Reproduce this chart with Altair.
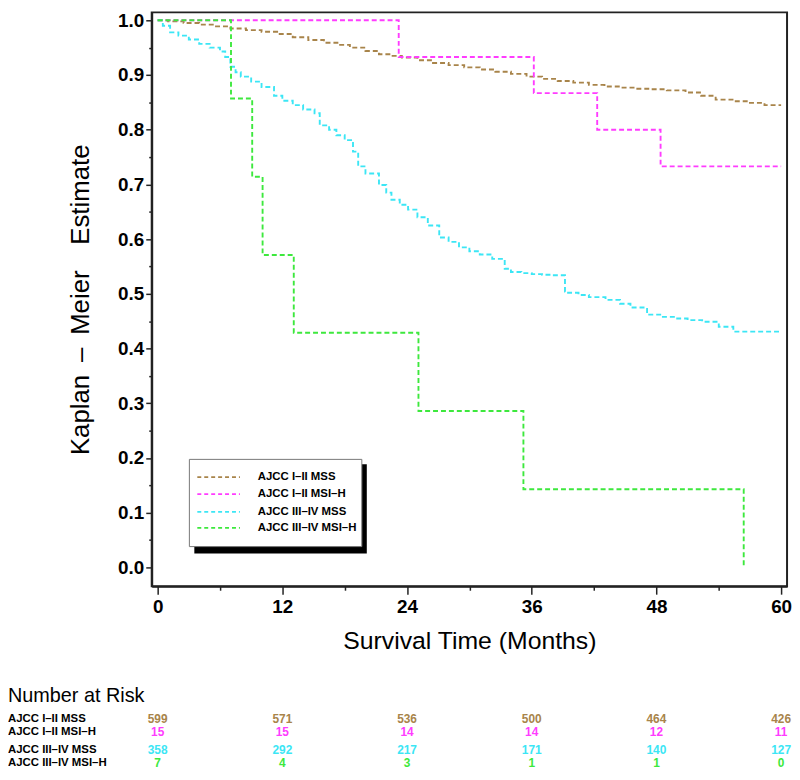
import altair as alt
import pandas as pd

# ---------------- data ----------------
groups = ["AJCC I\u2013II MSS", "AJCC I\u2013II MSI\u2013H", "AJCC III\u2013IV MSS", "AJCC III\u2013IV MSI\u2013H"]
colors = ["#a8844a", "#ff3cff", "#3ce6f5", "#3de83d"]

t_I_II_MSS = [0, 1, 2.5, 4, 5.5, 7, 8.5, 10, 11.5, 13, 14.5, 16, 17.3, 18.5, 20, 21.3, 22.5, 23.5, 25, 26.5,
              28, 29.5, 31, 32.5, 34, 35.5, 37, 38.5, 40, 41.5, 43, 44.5, 46, 47.5, 49, 50.8, 52.3, 53.7,
              55.5, 57, 58.4, 60]
s_I_II_MSS = [1.0, 0.998, 0.995, 0.992, 0.989, 0.985, 0.982, 0.979, 0.975, 0.969, 0.964, 0.959, 0.955,
              0.950, 0.944, 0.938, 0.935, 0.932, 0.927, 0.922, 0.918, 0.914, 0.910, 0.906, 0.902, 0.897,
              0.893, 0.889, 0.886, 0.882, 0.879, 0.877, 0.875, 0.874, 0.872, 0.868, 0.862, 0.855, 0.852,
              0.849, 0.845, 0.845]

t_I_II_MSIH = [0, 23.2, 36.2, 42.3, 48.4, 60]
s_I_II_MSIH = [1.0, 0.933, 0.867, 0.800, 0.733, 0.733]

t_III_IV_MSS = [0, 0.5, 1.2, 2, 3, 4, 5, 6, 6.5, 7, 7.5, 8, 9, 10, 11.2, 12, 13, 14, 15.1, 15.6, 16.5,
                17.2, 18, 18.8, 19.3, 20, 21.3, 22, 22.5, 23.3, 24.1, 25, 26, 27.1, 28, 29, 30, 31, 32.2,
                33.4, 34, 35, 36, 37, 38, 39.2, 39.5, 40.5, 41.5, 43.1, 44.5, 45.5, 47.1, 48.5, 50, 51,
                52.4, 54, 55.4, 60]
s_III_IV_MSS = [1.0, 0.99, 0.978, 0.972, 0.965, 0.957, 0.950, 0.943, 0.933, 0.915, 0.905, 0.897, 0.888,
                0.878, 0.862, 0.853, 0.845, 0.837, 0.830, 0.808, 0.800, 0.790, 0.781, 0.760, 0.733, 0.720,
                0.699, 0.685, 0.672, 0.663, 0.654, 0.640, 0.625, 0.603, 0.595, 0.585, 0.578, 0.572, 0.564,
                0.546, 0.540, 0.538, 0.536, 0.535, 0.534, 0.504, 0.502, 0.498, 0.494, 0.489, 0.482, 0.475,
                0.462, 0.458, 0.455, 0.452, 0.449, 0.440, 0.431, 0.431]

t_III_IV_MSIH = [0, 7.06, 9.1, 10.1, 13.1, 25.1, 35.2, 56.4]
s_III_IV_MSIH = [1.0, 0.857, 0.714, 0.571, 0.429, 0.286, 0.143, 0.0]

risk_times = [0, 12, 24, 36, 48, 60]
risk_I_II_MSS = [599, 571, 536, 500, 464, 426]
risk_I_II_MSIH = [15, 15, 14, 14, 12, 11]
risk_III_IV_MSS = [358, 292, 217, 171, 140, 127]
risk_III_IV_MSIH = [7, 4, 3, 1, 1, 0]

curve_t = [t_I_II_MSS, t_I_II_MSIH, t_III_IV_MSS, t_III_IV_MSIH]
curve_s = [s_I_II_MSS, s_I_II_MSIH, s_III_IV_MSS, s_III_IV_MSIH]
risk_rows = [risk_I_II_MSS, risk_I_II_MSIH, risk_III_IV_MSS, risk_III_IV_MSIH]

rows = []
for gi, (g, ts, ss) in enumerate(zip(groups, curve_t, curve_s)):
    for t, s in zip(ts, ss):
        rows.append({"group": g, "order": gi, "time": t, "surv": s})
curves = pd.DataFrame(rows)

FONT = "Liberation Sans Narrow, Liberation Sans, Arial, sans-serif"
color_scale = alt.Scale(domain=groups, range=colors)
x_scale = alt.Scale(domain=[-0.57, 60.57], nice=False, zero=False)
y_scale = alt.Scale(domain=[-0.0344, 1.0145], nice=False, zero=False)

y_ticks = [round(i * 0.05, 2) for i in range(21)]
x_ticks = list(range(0, 61, 6))

lines = alt.Chart(curves).mark_line(
    interpolate="step-after", strokeDash=[5, 3], strokeWidth=1.9
).encode(
    x=alt.X("time:Q", scale=x_scale,
            axis=alt.Axis(values=x_ticks, title="Survival Time (Months)",
                          labelExpr="datum.value % 12 == 0 ? datum.label : ''",
                          tickSize={"condition": {"test": "datum.value % 12 != 0", "value": 4}, "value": 8},
                          labelFontSize=19, labelFontWeight="bold", labelFont=FONT, labelPadding=3,
                          titleFontSize=25, titleFont="Liberation Sans, Arial", titleFontWeight="normal",
                          titlePadding=13, grid=False, domainColor="#222", domainWidth=2,
                          tickColor="#222", tickWidth=1.5, labelColor="#000", titleColor="#000")),
    y=alt.Y("surv:Q", scale=y_scale,
            axis=alt.Axis(values=y_ticks,
                          title="Kaplan\u2002\u2013\u2002Meier\u2003Estimate",
                          labelExpr="round(datum.value*20) % 2 == 0 ? format(datum.value, '.1f') : ''",
                          tickSize={"condition": {"test": "round(datum.value*20) % 2 == 1", "value": 3}, "value": 6},
                          labelFontSize=19, labelFontWeight="bold", labelFont=FONT, labelPadding=2,
                          titleFontSize=26, titleFont="Liberation Sans, Arial", titleFontWeight="normal",
                          titlePadding=24, grid=False, domainColor="#222", domainWidth=2,
                          tickColor="#222", tickWidth=1.5, labelColor="#000", titleColor="#000")),
    color=alt.Color("group:N", scale=color_scale, legend=None),
    detail="group:N",
    order="order:Q",
)

one = pd.DataFrame({"k": [0]})

# legend box (drawn by hand, with a drop shadow)
shadow = alt.Chart(one).mark_rect(color="#000").encode(
    x=alt.value(43), x2=alt.value(217), y=alt.value(456), y2=alt.value(546))
box = alt.Chart(one).mark_rect(color="#fff", stroke="#777", strokeWidth=1).encode(
    x=alt.value(38), x2=alt.value(212), y=alt.value(451), y2=alt.value(539))

legend_layers = []
leg_y = [469, 486, 504, 520]
for g, c, yy in zip(groups, colors, leg_y):
    d = pd.DataFrame({"label": [g]})
    legend_layers.append(alt.Chart(d).mark_rule(color=c, strokeDash=[4, 3], strokeWidth=1.8).encode(
        x=alt.value(46), x2=alt.value(89), y=alt.value(yy)))
    legend_layers.append(alt.Chart(d).mark_text(align="left", baseline="middle", font=FONT,
                                                fontSize=11.5, fontWeight="bold", color="#000").encode(
        x=alt.value(107), y=alt.value(yy), text="label:N"))

# number at risk table
risk_title = alt.Chart(one).mark_text(align="left", baseline="middle", font=FONT, fontSize=20,
                                      color="#000", text="Number at Risk").encode(
    x=alt.value(-145), y=alt.value(690))

risk_layers = []
risk_y = [713, 726, 744, 757]
for g, c, yy, counts in zip(groups, colors, risk_y, risk_rows):
    d = pd.DataFrame({"time": risk_times, "n": counts})
    risk_layers.append(alt.Chart(d).mark_text(align="center", baseline="middle", font=FONT,
                                              fontSize=12, fontWeight="bold", color=c).encode(
        x=alt.X("time:Q", scale=x_scale), y=alt.value(yy), text="n:Q"))
    risk_layers.append(alt.Chart(pd.DataFrame({"label": [g]})).mark_text(
        align="left", baseline="middle", font=FONT, fontSize=11.5, fontWeight="bold", color="#000").encode(
        x=alt.value(-145), y=alt.value(yy), text="label:N"))

chart = alt.layer(
    lines, shadow, box, *legend_layers, risk_title, *risk_layers
).properties(
    width=641, height=579,
    padding={"left": 0, "top": 0, "right": 0, "bottom": 0},
    background="#ffffff",
).configure_view(
    stroke="#222", strokeWidth=2
)

chart.save("out.html", embed_options={"renderer": "svg", "actions": False})
